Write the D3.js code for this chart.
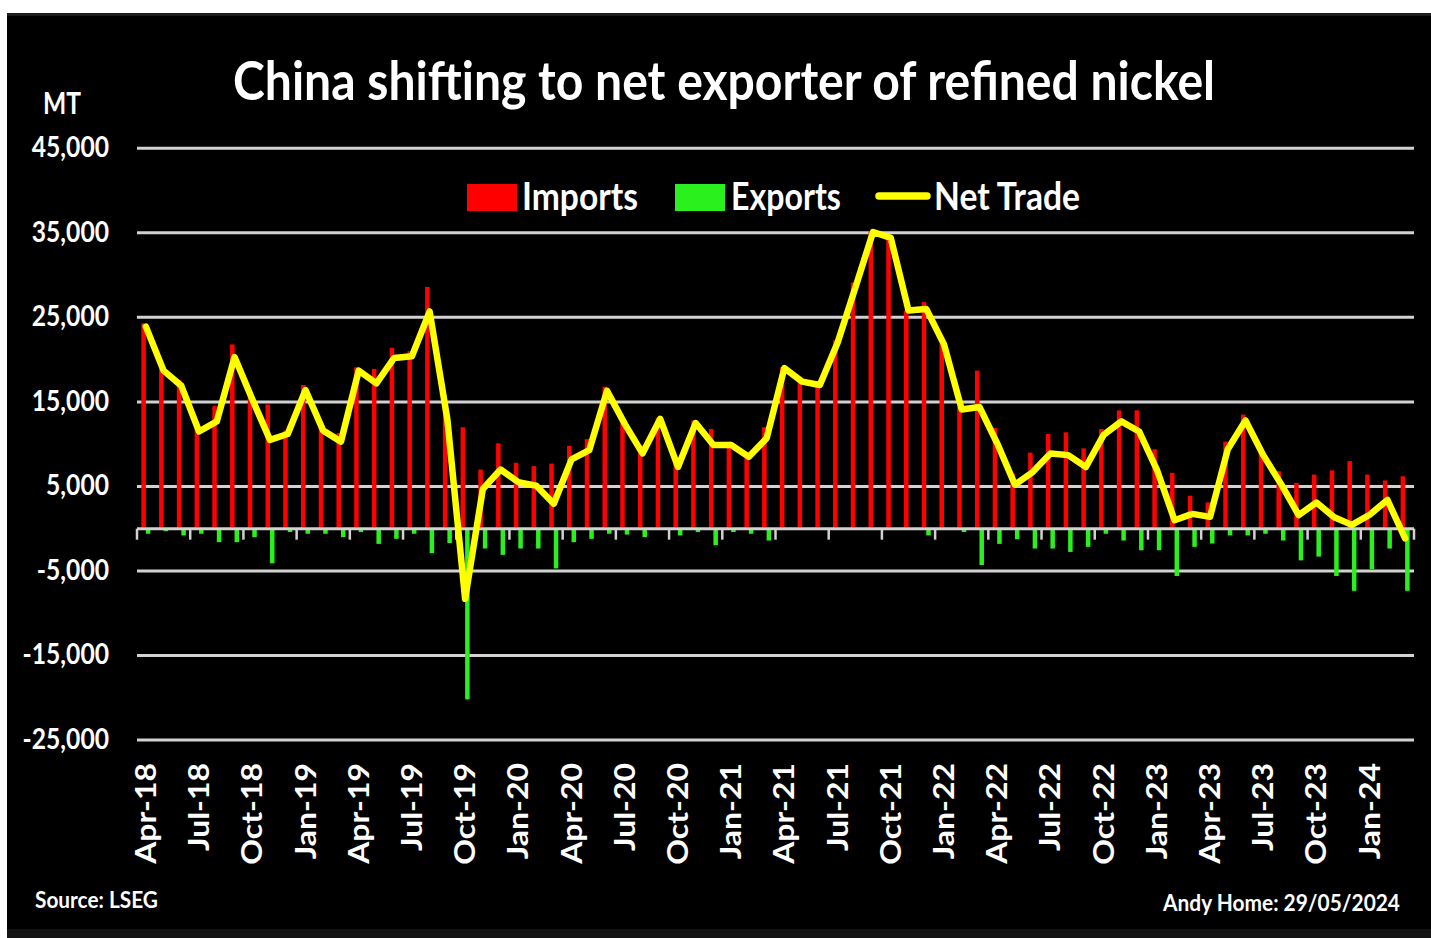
<!DOCTYPE html>
<html><head><meta charset="utf-8">
<script src="https://cdn.jsdelivr.net/npm/d3@7"></script>
<style>
body{margin:0;background:#fff;}
svg{display:block;}
text{font-family:Lato,"Open Sans",sans-serif;font-weight:700;fill:#fff;}
</style>
</head><body>
<svg id="chart" width="1431" height="938"></svg>
<script>
const titleText = "China shifting to net exporter of refined nickel";
const unitLabel = "MT";
const sourceText = "Source: LSEG";
const creditText = "Andy Home: 29/05/2024";
const seriesNames = ["Imports", "Exports", "Net Trade"];

const months = [
  "Apr-18","May-18","Jun-18","Jul-18","Aug-18","Sep-18","Oct-18","Nov-18","Dec-18",
  "Jan-19","Feb-19","Mar-19","Apr-19","May-19","Jun-19","Jul-19","Aug-19","Sep-19","Oct-19","Nov-19","Dec-19",
  "Jan-20","Feb-20","Mar-20","Apr-20","May-20","Jun-20","Jul-20","Aug-20","Sep-20","Oct-20","Nov-20","Dec-20",
  "Jan-21","Feb-21","Mar-21","Apr-21","May-21","Jun-21","Jul-21","Aug-21","Sep-21","Oct-21","Nov-21","Dec-21",
  "Jan-22","Feb-22","Mar-22","Apr-22","May-22","Jun-22","Jul-22","Aug-22","Sep-22","Oct-22","Nov-22","Dec-22",
  "Jan-23","Feb-23","Mar-23","Apr-23","May-23","Jun-23","Jul-23","Aug-23","Sep-23","Oct-23","Nov-23","Dec-23",
  "Jan-24","Feb-24","Mar-24"
];

const imports = [
  24300,19000,17600,12100,14500,21800,16300,14700,11600,
  17000,12100,11300,19100,18900,21400,21000,28600,14600,12000,7000,10100,
  7800,7400,7700,9800,10600,16800,13100,9900,13100,8100,12800,11800,
  10300,9100,12000,19100,17300,16900,22300,29100,35200,34500,25800,26800,
  21900,14400,18700,11900,6500,9000,11200,11400,9500,11800,14000,14000,
  9400,6600,3900,3100,10300,13500,9300,6800,5400,6400,6900,8000,
  6400,5700,6200
];

const exportsData = [
  -600,-300,-800,-600,-1600,-1600,-1000,-4100,-400,
  -600,-600,-1000,-400,-1800,-1200,-600,-2900,-1700,-20200,-2350,-3100,
  -2350,-2350,-4700,-1600,-1200,-600,-700,-1000,-100,-800,-400,-1950,
  -400,-600,-1400,0,0,0,0,0,0,0,0,-800,
  0,-400,-4300,-1800,-1250,-2350,-2350,-2750,-2150,-600,-1400,-2550,
  -2550,-5600,-2150,-1750,-800,-800,-600,-1400,-3750,-3300,-5600,-7350,
  -4800,-2350,-7350
];

const netTrade = [
  23900,18700,16900,11500,12700,20300,15300,10500,11200,
  16400,11600,10300,18700,17200,20200,20400,25700,12900,-8300,4700,7000,
  5500,5100,2950,8200,9300,16300,12400,8900,13000,7300,12500,9900,
  9900,8500,10700,19000,17400,17000,22000,28500,35100,34400,25800,26000,
  21800,14100,14400,10100,5200,6700,8900,8700,7300,11100,12700,11500,
  7000,1000,1750,1400,9400,12800,8700,5300,1600,3100,1350,450,
  1650,3400,-1150
];

const yTicks = [-25000,-15000,-5000,5000,15000,25000,35000,45000];

const COLORS = {imp:"#ff0000", exp:"#2af01e", net:"#ffff00", grid:"#d2d2d2"};

const svg = d3.select("#chart");

// background panel
svg.append("rect").attr("x",7).attr("y",13).attr("width",1424).attr("height",917).attr("fill","#000");
svg.append("rect").attr("x",7).attr("y",13).attr("width",1424).attr("height",3).attr("fill","#1c1c1c");
svg.append("rect").attr("x",7).attr("y",929).attr("width",1424).attr("height",9).attr("fill","#141414");

const x = d3.scaleBand().domain(months).range([137,1414]).padding(0);
const sub = d3.scaleBand().domain(["imp","exp"]).range([0,x.bandwidth()]).paddingInner(0).paddingOuter(0.97);
const y = d3.scaleLinear().domain([-25000,45000]).range([740,148.3]);

function fit(sel, target){
  sel.each(function(){
    this.setAttribute("textLength", target);
    this.setAttribute("lengthAdjust","spacingAndGlyphs");
  });
}
function squeeze(sel, k){
  sel.each(function(){
    const w = this.getComputedTextLength();
    this.setAttribute("textLength", w*k);
    this.setAttribute("lengthAdjust","spacingAndGlyphs");
  });
}
const fmt = v => d3.format(",")(v).replace("\u2212","-");

// gridlines
svg.append("g").selectAll("line").data(yTicks).join("line")
  .attr("x1",137).attr("x2",1414)
  .attr("y1",d=>y(d)).attr("y2",d=>y(d))
  .attr("stroke",COLORS.grid).attr("stroke-width",3);

// y labels
const yl = svg.append("g").selectAll("text").data(yTicks).join("text")
  .attr("x",109).attr("y",d=>y(d)).attr("dy","0.31em")
  .attr("text-anchor","end").attr("font-size",28)
  .text(d=>fmt(d));
squeeze(yl, 0.88);

// bars
svg.append("g").selectAll("rect").data(months).join("rect")
  .attr("x",(m)=>x(m)+sub("imp")).attr("width",sub.bandwidth())
  .attr("y",(m,i)=>y(Math.max(0,imports[i])))
  .attr("height",(m,i)=>Math.abs(y(imports[i])-y(0)))
  .attr("fill",COLORS.imp);
svg.append("g").selectAll("rect").data(months).join("rect")
  .attr("x",(m)=>x(m)+sub("exp")).attr("width",sub.bandwidth())
  .attr("y",(m,i)=>y(Math.max(0,exportsData[i])))
  .attr("height",(m,i)=>Math.abs(y(exportsData[i])-y(0)))
  .attr("fill",COLORS.exp);

// zero axis with ticks
const y0 = y(0);
svg.append("line").attr("x1",137).attr("x2",1414).attr("y1",y0).attr("y2",y0)
  .attr("stroke",COLORS.grid).attr("stroke-width",3);
const tickPos = months.map(m=>x(m)).filter((v,i)=>i%3===0).concat([x.range()[1]]);
svg.append("g").selectAll("line").data(tickPos).join("line")
  .attr("x1",d=>d).attr("x2",d=>d).attr("y1",y0).attr("y2",y0+11)
  .attr("stroke",COLORS.grid).attr("stroke-width",2.5);

// net trade line
const line = d3.line().x((d,i)=>x(months[i])+x.bandwidth()/2).y(d=>y(d));
svg.append("path").datum(netTrade).attr("d",line)
  .attr("fill","none").attr("stroke",COLORS.net).attr("stroke-width",6.5)
  .attr("stroke-linejoin","round").attr("stroke-linecap","round");

// x labels
const xl = svg.append("g").selectAll("text").data(months.filter((m,i)=>i%3===0)).join("text")
  .attr("transform",m=>`translate(${x(m)+x.bandwidth()/2},763) rotate(-90)`)
  .attr("dy","0.358em").attr("text-anchor","end").attr("font-size",28)
  .text(m=>m);
squeeze(xl, 1.14);

// title
svg.append("text").attr("x",724).attr("y",100).attr("text-anchor","middle")
  .attr("font-size",53).text(titleText).call(fit, 982);

// unit
svg.append("text").attr("x",43).attr("y",114).attr("font-size",31).text(unitLabel).call(fit,38);

// legend
const lg = svg.append("g");
lg.append("rect").attr("x",467).attr("y",184).attr("width",50).attr("height",27).attr("fill",COLORS.imp);
lg.append("text").attr("x",522).attr("y",210).attr("font-size",39).text(seriesNames[0]).call(fit,116);
lg.append("rect").attr("x",675).attr("y",184).attr("width",50).attr("height",27).attr("fill",COLORS.exp);
lg.append("text").attr("x",731).attr("y",210).attr("font-size",39).text(seriesNames[1]).call(fit,110);
lg.append("line").attr("x1",879).attr("x2",927).attr("y1",196).attr("y2",196)
  .attr("stroke",COLORS.net).attr("stroke-width",7.5).attr("stroke-linecap","round");
lg.append("text").attr("x",934).attr("y",210).attr("font-size",39).text(seriesNames[2]).call(fit,146);

// footer
svg.append("text").attr("x",35).attr("y",908).attr("font-size",22).text(sourceText).call(fit,123);
svg.append("text").attr("x",1400).attr("y",911).attr("text-anchor","end").attr("font-size",22).text(creditText).call(fit,237);
</script>
</body></html>
